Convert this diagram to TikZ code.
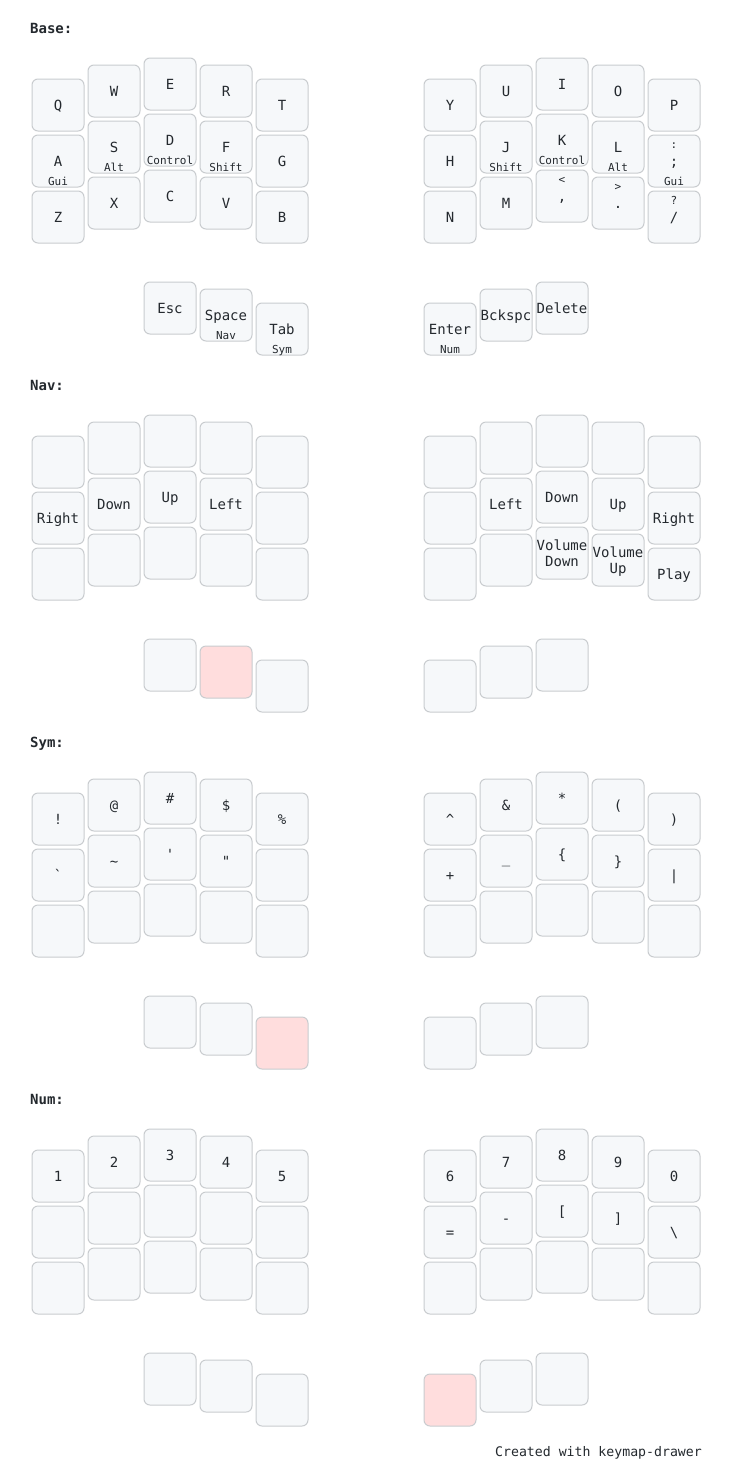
\documentclass[tikz,border=0pt]{standalone}
\usepackage{fontspec}
\newfontfamily\kfont{DejaVu Sans Mono}
\definecolor{keyfill}{HTML}{F6F8FA}
\definecolor{keystroke}{HTML}{C9CCCF}
\definecolor{heldfill}{HTML}{FFDDDD}
\definecolor{ink}{HTML}{24292E}
\tikzset{
  key/.style={draw=keystroke, fill=keyfill, line width=1pt, rounded corners=6pt,
    minimum width=52pt, minimum height=52pt, inner sep=0pt, outer sep=0pt},
  held/.style={fill=heldfill},
  tap/.style={text=ink, font=\kfont\fontsize{14}{17}\selectfont, inner sep=0pt, anchor=base},
  small/.style={text=ink, font=\kfont\fontsize{11}{13}\selectfont, inner sep=0pt, anchor=base},
  title/.style={text=ink, font=\kfont\bfseries\fontsize{14}{17}\selectfont, inner sep=0pt, anchor=base west},
  foot/.style={text=ink, font=\kfont\fontsize{13.2}{16}\selectfont, inner sep=0pt, anchor=base east},
}
% name, x, y, tap, hold, shifted, extra style
\newcommand\K[7]{%
  \node[key,#7] (#1) at (#2,#3) {};
  \ifx\relax#4\relax\else\node[tap] (#1t) at ([yshift=-5pt]#1.center) {#4};\fi
  \ifx\relax#5\relax\else\node[small] (#1h) at ([yshift=-24pt]#1.center) {#5};\fi
  \ifx\relax#6\relax\else\node[small] (#1s) at ([yshift=13pt]#1.center) {#6};\fi
}
% empty key
\newcommand\E[3]{\node[key] (#1) at (#2,#3) {};}
% two-line key: name, x, y, line1, line2
\newcommand\KM[5]{%
  \node[key] (#1) at (#2,#3) {};
  \node[tap] (#1t) at ([yshift=3pt]#1.center) {#4};
  \node[tap] (#1u) at ([yshift=-13pt]#1.center) {#5};
}
\begin{document}
\begin{tikzpicture}[x=1pt,y=-1pt]
\useasboundingbox[fill=white] (0,0) rectangle (732,1484);

% ---------------- Base ----------------
\begin{scope}
\node[title] (tb) at (30,33) {Base:};
\K{bL00}{58}{105}{Q}{}{}{}
\K{bL01}{114}{91}{W}{}{}{}
\K{bL02}{170}{84}{E}{}{}{}
\K{bL03}{226}{91}{R}{}{}{}
\K{bL04}{282}{105}{T}{}{}{}
\K{bL10}{58}{161}{A}{Gui}{}{}
\K{bL11}{114}{147}{S}{Alt}{}{}
\K{bL12}{170}{140}{D}{Control}{}{}
\K{bL13}{226}{147}{F}{Shift}{}{}
\K{bL14}{282}{161}{G}{}{}{}
\K{bL20}{58}{217}{Z}{}{}{}
\K{bL21}{114}{203}{X}{}{}{}
\K{bL22}{170}{196}{C}{}{}{}
\K{bL23}{226}{203}{V}{}{}{}
\K{bL24}{282}{217}{B}{}{}{}
\K{bLt0}{170}{308}{Esc}{}{}{}
\K{bLt1}{226}{315}{Space}{Nav}{}{}
\K{bLt2}{282}{329}{Tab}{Sym}{}{}
\K{bR00}{450}{105}{Y}{}{}{}
\K{bR01}{506}{91}{U}{}{}{}
\K{bR02}{562}{84}{I}{}{}{}
\K{bR03}{618}{91}{O}{}{}{}
\K{bR04}{674}{105}{P}{}{}{}
\K{bR10}{450}{161}{H}{}{}{}
\K{bR11}{506}{147}{J}{Shift}{}{}
\K{bR12}{562}{140}{K}{Control}{}{}
\K{bR13}{618}{147}{L}{Alt}{}{}
\K{bR14}{674}{161}{;}{Gui}{:}{}
\K{bR20}{450}{217}{N}{}{}{}
\K{bR21}{506}{203}{M}{}{}{}
\K{bR22}{562}{196}{,}{}{<}{}
\K{bR23}{618}{203}{.}{}{>}{}
\K{bR24}{674}{217}{/}{}{?}{}
\K{bRt0}{450}{329}{Enter}{Num}{}{}
\K{bRt1}{506}{315}{Bckspc}{}{}{}
\K{bRt2}{562}{308}{Delete}{}{}{}
\end{scope}

% ---------------- Nav ----------------
\begin{scope}[yshift=-357pt]
\node[title] (tn) at (30,33) {Nav:};
\E{nL00}{58}{105}
\E{nL01}{114}{91}
\E{nL02}{170}{84}
\E{nL03}{226}{91}
\E{nL04}{282}{105}
\K{nL10}{58}{161}{Right}{}{}{}
\K{nL11}{114}{147}{Down}{}{}{}
\K{nL12}{170}{140}{Up}{}{}{}
\K{nL13}{226}{147}{Left}{}{}{}
\E{nL14}{282}{161}
\E{nL20}{58}{217}
\E{nL21}{114}{203}
\E{nL22}{170}{196}
\E{nL23}{226}{203}
\E{nL24}{282}{217}
\E{nLt0}{170}{308}
\K{nLt1}{226}{315}{}{}{}{held}
\E{nLt2}{282}{329}
\E{nR00}{450}{105}
\E{nR01}{506}{91}
\E{nR02}{562}{84}
\E{nR03}{618}{91}
\E{nR04}{674}{105}
\E{nR10}{450}{161}
\K{nR11}{506}{147}{Left}{}{}{}
\K{nR12}{562}{140}{Down}{}{}{}
\K{nR13}{618}{147}{Up}{}{}{}
\K{nR14}{674}{161}{Right}{}{}{}
\E{nR20}{450}{217}
\E{nR21}{506}{203}
\KM{nR22}{562}{196}{Volume}{Down}
\KM{nR23}{618}{203}{Volume}{Up}
\K{nR24}{674}{217}{Play}{}{}{}
\E{nRt0}{450}{329}
\E{nRt1}{506}{315}
\E{nRt2}{562}{308}
\end{scope}

% ---------------- Sym ----------------
\begin{scope}[yshift=-714pt]
\node[title] (ts) at (30,33) {Sym:};
\K{sL00}{58}{105}{!}{}{}{}
\K{sL01}{114}{91}{@}{}{}{}
\K{sL02}{170}{84}{\symbol{35}}{}{}{}
\K{sL03}{226}{91}{\symbol{36}}{}{}{}
\K{sL04}{282}{105}{\symbol{37}}{}{}{}
\K{sL10}{58}{161}{\symbol{96}}{}{}{}
\K{sL11}{114}{147}{\symbol{126}}{}{}{}
\K{sL12}{170}{140}{\symbol{39}}{}{}{}
\K{sL13}{226}{147}{\symbol{34}}{}{}{}
\E{sL14}{282}{161}
\E{sL20}{58}{217}
\E{sL21}{114}{203}
\E{sL22}{170}{196}
\E{sL23}{226}{203}
\E{sL24}{282}{217}
\E{sLt0}{170}{308}
\E{sLt1}{226}{315}
\K{sLt2}{282}{329}{}{}{}{held}
\K{sR00}{450}{105}{\symbol{94}}{}{}{}
\K{sR01}{506}{91}{\symbol{38}}{}{}{}
\K{sR02}{562}{84}{*}{}{}{}
\K{sR03}{618}{91}{(}{}{}{}
\K{sR04}{674}{105}{)}{}{}{}
\K{sR10}{450}{161}{+}{}{}{}
\K{sR11}{506}{147}{\raisebox{3pt}{\symbol{95}}}{}{}{}
\K{sR12}{562}{140}{\symbol{123}}{}{}{}
\K{sR13}{618}{147}{\symbol{125}}{}{}{}
\K{sR14}{674}{161}{\symbol{124}}{}{}{}
\E{sR20}{450}{217}
\E{sR21}{506}{203}
\E{sR22}{562}{196}
\E{sR23}{618}{203}
\E{sR24}{674}{217}
\E{sRt0}{450}{329}
\E{sRt1}{506}{315}
\E{sRt2}{562}{308}
\end{scope}

% ---------------- Num ----------------
\begin{scope}[yshift=-1071pt]
\node[title] (tm) at (30,33) {Num:};
\K{mL00}{58}{105}{1}{}{}{}
\K{mL01}{114}{91}{2}{}{}{}
\K{mL02}{170}{84}{3}{}{}{}
\K{mL03}{226}{91}{4}{}{}{}
\K{mL04}{282}{105}{5}{}{}{}
\E{mL10}{58}{161}
\E{mL11}{114}{147}
\E{mL12}{170}{140}
\E{mL13}{226}{147}
\E{mL14}{282}{161}
\E{mL20}{58}{217}
\E{mL21}{114}{203}
\E{mL22}{170}{196}
\E{mL23}{226}{203}
\E{mL24}{282}{217}
\E{mLt0}{170}{308}
\E{mLt1}{226}{315}
\E{mLt2}{282}{329}
\K{mR00}{450}{105}{6}{}{}{}
\K{mR01}{506}{91}{7}{}{}{}
\K{mR02}{562}{84}{8}{}{}{}
\K{mR03}{618}{91}{9}{}{}{}
\K{mR04}{674}{105}{0}{}{}{}
\K{mR10}{450}{161}{=}{}{}{}
\K{mR11}{506}{147}{-}{}{}{}
\K{mR12}{562}{140}{[}{}{}{}
\K{mR13}{618}{147}{]}{}{}{}
\K{mR14}{674}{161}{\symbol{92}}{}{}{}
\E{mR20}{450}{217}
\E{mR21}{506}{203}
\E{mR22}{562}{196}
\E{mR23}{618}{203}
\E{mR24}{674}{217}
\K{mRt0}{450}{329}{}{}{}{held}
\E{mRt1}{506}{315}
\E{mRt2}{562}{308}
\end{scope}

\node[foot] (footer) at (702,1456) {Created with keymap-drawer};
\end{tikzpicture}
\end{document}
